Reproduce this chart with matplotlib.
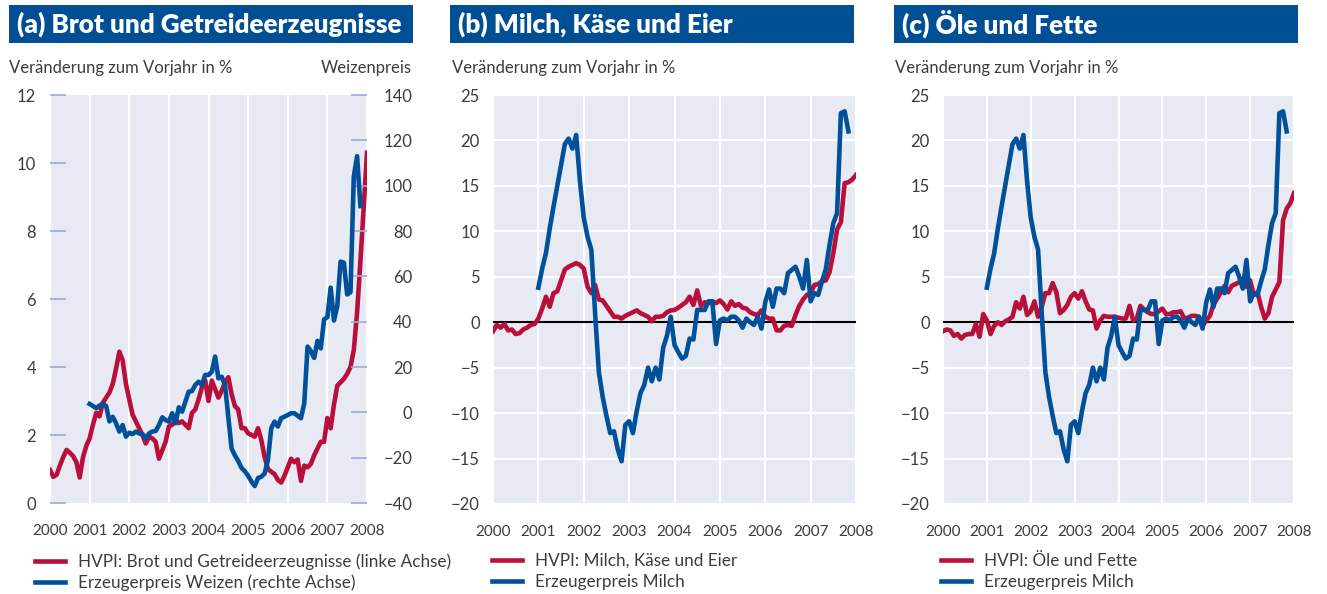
import matplotlib
matplotlib.use('Agg')
import matplotlib.pyplot as plt
from matplotlib.patches import Rectangle
import numpy as np

plt.rcParams['font.family'] = ['Lato', 'DejaVu Sans']

# Monatswerte, Januar 2000 bis Januar 2008 (HVPI) bzw. ab Januar 2001 (Erzeugerpreise)
brot_hvpi = [0.97, 0.77, 0.83, 1.1, 1.35, 1.56, 1.48, 1.38, 1.2, 0.75, 1.35, 1.68,
             1.9, 2.3, 2.65, 2.55, 2.95, 3.1, 3.25, 3.5, 3.95, 4.45, 4.2, 3.5,
             3.05, 2.6, 2.4, 2.2, 2.0, 1.75, 1.95, 1.9, 1.8, 1.3, 1.55, 1.8,
             2.25, 2.3, 2.45, 2.35, 2.4, 2.3, 2.2, 2.65, 2.75, 3.05, 3.4, 3.6,
             3.0, 3.6, 3.35, 3.1, 3.3, 3.55, 3.7, 3.2, 2.85, 2.75, 2.2, 2.2,
             2.05, 2.0, 1.95, 2.2, 1.85, 1.35, 1.0, 0.92, 0.85, 0.68, 0.6, 0.8,
             1.05, 1.3, 1.2, 1.28, 0.65, 1.1, 1.05, 1.15, 1.4, 1.6, 1.8, 1.8,
             2.5, 2.2, 2.9, 3.45, 3.55, 3.65, 3.8, 4.0, 4.5, 5.6, 7.1, 8.7,
             10.3]
weizen = [3.7, 2.8, 1.8, 3.0, 3.7, 2.8, -4.0, -2.0, -4.8, -8.5, -5.6, -10.7,
          -9.0, -9.6, -8.5, -9.3, -9.6, -11.5, -9.3, -8.5, -8.2, -5.6, -2.2, -3.4,
          -4.1, -0.4, -4.8, 2.2, 0.3, 4.7, 9.1, 9.4, 12.1, 13.5, 12.1, 16.5,
          16.5, 17.9, 24.6, 15.0, 15.7, 12.0, -2.0, -16.0, -19.0, -21.5, -24.5, -26.0,
          -28.0, -30.5, -32.5, -29.0, -28.4, -27.0, -21.0, -7.0, -4.1, -6.3, -2.6, -1.9,
          -1.2, -0.4, -0.4, -1.5, -2.6, 4.0, 29.0, 27.0, 24.0, 31.5, 28.2, 41.0,
          42.0, 55.0, 40.5, 47.0, 66.5, 66.0, 52.0, 53.0, 104.0, 113.0, 91.0]
milch_hvpi = [-1.0, -0.3, -0.6, -0.2, -0.9, -0.8, -1.3, -1.2, -0.8, -0.6, -0.3, -0.2,
              0.4, 1.5, 2.8, 1.7, 3.2, 3.4, 4.6, 5.8, 6.1, 6.3, 6.5, 6.3,
              5.9, 3.9, 3.2, 4.1, 2.5, 2.4, 1.8, 1.2, 0.6, 0.6, 0.4, 0.7,
              0.9, 1.1, 1.3, 1.0, 0.8, 0.6, 0.1, 0.6, 0.6, 0.7, 1.1, 1.3,
              1.35, 1.6, 1.9, 2.2, 2.8, 1.9, 3.5, 1.8, 2.2, 2.1, 2.3, 2.1,
              2.4, 2.0, 1.4, 2.3, 1.8, 2.0, 1.6, 1.5, 1.1, 0.9, 0.8, 1.3,
              0.6, 0.4, 0.4, -0.9, -0.9, -0.4, -0.3, -0.4, 0.8, 1.8, 2.5, 3.0,
              3.2, 4.1, 4.2, 4.5, 4.6, 5.5, 7.6, 10.2, 11.0, 15.3, 15.4, 15.7,
              16.2]
milch_erzeuger = [3.8, 5.9, 7.6, 10.3, 12.7, 15.0, 17.3, 19.6, 20.2, 19.1, 20.6, 15.5,
                  11.5, 9.4, 8.0, 1.0, -5.5, -8.2, -10.3, -12.2, -12.0, -14.0, -15.3, -11.3,
                  -10.9, -12.2, -9.8, -7.8, -6.9, -5.0, -6.5, -5.0, -6.3, -2.8, -1.5, 0.6,
                  -2.5, -3.3, -4.0, -3.7, -1.8, -1.9, 1.35, 1.35, 1.35, 2.3, 2.3, -2.4,
                  0.2, 0.4, 0.2, 0.6, 0.6, 0.2, -0.6, 0.4, 0.0, -0.3, 0.6, -0.7,
                  2.2, 3.6, 1.7, 3.7, 3.7, 3.2, 5.4, 5.75, 6.1, 5.0, 3.7, 6.85,
                  2.3, 3.2, 3.0, 4.5, 5.8, 8.5, 10.9, 12.0, 23.0, 23.2, 21.0]
oele_hvpi = [-1.0, -0.8, -0.9, -1.5, -1.3, -1.8, -1.4, -1.3, -1.3, -0.2, -1.6, 0.9,
             0.2, -1.3, -0.4, 0.0, -0.3, 0.1, 0.3, 0.6, 2.2, 1.5, 2.8, 0.8,
             1.2, 2.3, 0.6, 1.7, 3.2, 3.2, 4.3, 3.3, 1.0, 1.35, 1.9, 2.8,
             3.2, 2.6, 3.4, 2.3, 1.4, 1.3, -0.7, 0.2, 0.7, 0.6, 0.6, 0.6,
             0.5, 0.4, 0.4, 1.8, 0.2, 0.4, 1.8, 1.4, 1.1, 0.9, 0.9, 1.2,
             1.5, 0.9, 0.9, 1.1, 1.1, 1.2, 0.4, 0.5, 0.7, 0.7, 0.6, -0.4,
             0.2, 0.7, 2.0, 2.6, 3.3, 4.0, 3.3, 4.0, 4.2, 4.4, 4.8, 3.9,
             4.6, 3.0, 3.3, 1.7, 0.4, 1.0, 2.8, 3.6, 4.4, 11.2, 12.5, 13.1,
             14.2]

jahre = list(range(2000, 2009))
titel = ['(a) Brot und Getreideerzeugnisse', '(b) Milch, Käse und Eier', '(c) Öle und Fette']
legende_a = ['HVPI: Brot und Getreideerzeugnisse (linke Achse)', 'Erzeugerpreis Weizen (rechte Achse)']
legende_b = ['HVPI: Milch, Käse und Eier', 'Erzeugerpreis Milch']
legende_c = ['HVPI: Öle und Fette', 'Erzeugerpreis Milch']

ROT = '#B8103A'
BLAU = '#00509A'
DUNKELBLAU = '#004E94'
HINTERGRUND = '#E7E9F3'
TEXT = '#3c3c3c'
TICK = '#9BACD9'

W, H = 1327, 594
fig = plt.figure(figsize=(W / 100, H / 100), dpi=100)


def box(x0, y0, x1, y1):
    # Pixelkoordinaten (oben links) -> Figure-Koordinaten
    return [x0 / W, 1 - y1 / H, (x1 - x0) / W, (y1 - y0) / H]


def monate(start, n):
    return start + np.arange(n) / 12.0


def grundstil(ax):
    ax.set_facecolor(HINTERGRUND)
    for s in ax.spines.values():
        s.set_visible(False)
    ax.set_xlim(2000, 2008)
    ax.set_xticks(jahre)
    ax.set_xticklabels([str(j) for j in jahre])
    ax.tick_params(axis='x', length=0, pad=15, labelsize=11, labelcolor=TEXT)
    ax.grid(axis='x', color='white', linewidth=1.6)
    ax.set_axisbelow(True)


# Titelbalken und Achsentitel
for x0, t in zip([9, 450, 894], titel):
    fig.add_artist(Rectangle((x0 / W, 1 - 43 / H), 404 / W, 38 / H,
                             transform=fig.transFigure, facecolor=DUNKELBLAU, edgecolor='none'))
    fig.text((x0 + 8) / W, 1 - 24 / H, t, ha='left', va='center', color='white',
             fontsize=18.8, fontweight='heavy')
for x0 in [9, 452, 895]:
    fig.text(x0 / W, 1 - 68 / H, 'Veränderung zum Vorjahr in %', ha='left', va='center',
             color=TEXT, fontsize=12)
fig.text(412 / W, 1 - 68 / H, 'Weizenpreis', ha='right', va='center', color=TEXT, fontsize=12)

# (a) Brot und Getreide
ax_a = fig.add_axes(box(50, 95, 367, 503))
grundstil(ax_a)
ax_a.set_ylim(0, 12)
ax_a.set_yticks(range(0, 13, 2))
ax_a.tick_params(axis='y', direction='in', length=11.5, width=1.2, color=TICK,
                 pad=10, labelsize=12, labelcolor=TEXT)
l1, = ax_a.plot(monate(2000, len(brot_hvpi)), brot_hvpi, color=ROT, lw=3.3)

ax_a2 = ax_a.twinx()
for s in ax_a2.spines.values():
    s.set_visible(False)
ax_a2.set_ylim(-40, 140)
ax_a2.set_yticks(range(-40, 141, 20))
ax_a2.tick_params(axis='y', direction='in', length=11.5, width=1.2, color=TICK,
                  pad=32.5, labelsize=12, labelcolor=TEXT)
for lab in ax_a2.get_yticklabels():
    lab.set_horizontalalignment('right')
l2, = ax_a2.plot(monate(2001, len(weizen)), weizen, color=BLAU, lw=3.3)

ax_a2.legend([l1, l2], legende_a, loc='upper left', bbox_to_anchor=(35 / W, 1 - 553 / H),
             bbox_transform=fig.transFigure, frameon=False, fontsize=12.3,
             handlelength=1.75, handletextpad=0.75, labelspacing=0.3,
             borderpad=0, borderaxespad=0, labelcolor=TEXT)

# (b) und (c)
for rect, hvpi, namen, lx in [((493, 95, 856, 504), milch_hvpi, legende_b, 492),
                               ((943, 95, 1294, 504), oele_hvpi, legende_c, 941)]:
    ax = fig.add_axes(box(*rect))
    grundstil(ax)
    ax.set_ylim(-20, 25)
    ax.set_yticks(range(-20, 26, 5))
    ax.grid(axis='y', color='white', linewidth=1.6)
    ax.tick_params(axis='y', length=0, pad=9.5, labelsize=12, labelcolor=TEXT)
    ax.axhline(0, color='black', lw=1.5, zorder=1.5)
    r, = ax.plot(monate(2000, len(hvpi)), hvpi, color=ROT, lw=3.3)
    b, = ax.plot(monate(2001, len(milch_erzeuger)), milch_erzeuger, color=BLAU, lw=3.3)
    ax.legend([r, b], namen, loc='upper left', bbox_to_anchor=(lx / W, 1 - 553 / H),
              bbox_transform=fig.transFigure, frameon=False, fontsize=12.3,
              handlelength=1.75, handletextpad=0.75, labelspacing=0.3,
              borderpad=0, borderaxespad=0, labelcolor=TEXT)

fig.savefig('out.png', dpi=100)
